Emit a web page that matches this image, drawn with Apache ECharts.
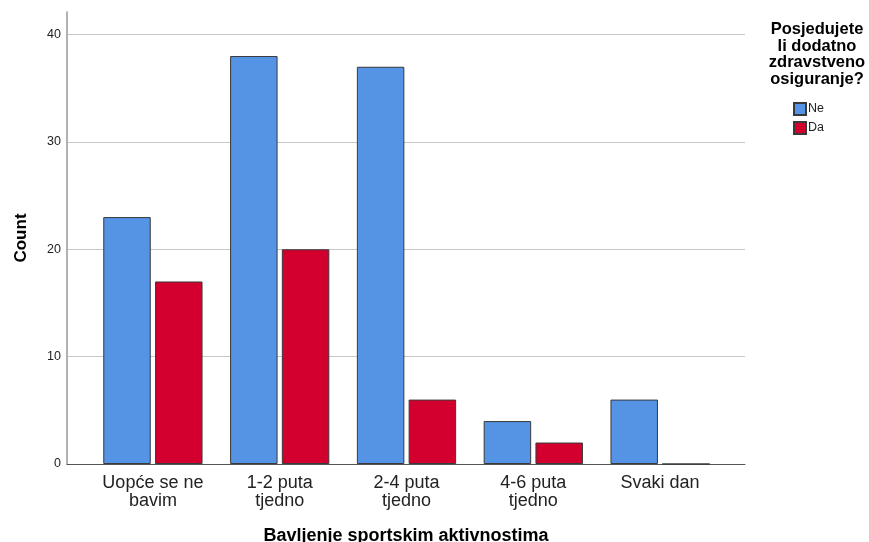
<!DOCTYPE html>
<html>
<head>
<meta charset="utf-8">
<script src="https://cdn.jsdelivr.net/npm/echarts@6/dist/echarts.min.js"></script>
<style>html,body{margin:0;padding:0;background:#fff}#c{width:869px;height:542px}</style>
</head>
<body>
<div id="c"></div>
<script>
const categories = ['Uopće se ne\nbavim', '1-2 puta\ntjedno', '2-4 puta\ntjedno', '4-6 puta\ntjedno', 'Svaki dan'];
const seriesNames = ['Ne', 'Da'];
const valuesNe = [23, 38, 37, 4, 6];
const valuesDa = [17, 20, 6, 2, 0];
const yTicks = [0, 10, 20, 30, 40];
const legendTitle = 'Posjedujete\nli dodatno\nzdravstveno\nosiguranje?';
const xTitle = 'Bavljenje sportskim aktivnostima';
const yTitle = 'Count';

const FONT = '"Liberation Sans", Arial, sans-serif';
const Y_MAX = 42.1;
const chart = echarts.init(document.getElementById('c'));
chart.setOption({
  animation: false,
  textStyle: { fontFamily: FONT },
  title: {
    text: legendTitle,
    left: 812, top: 16, textAlign: 'center',
    textStyle: { fontSize: 16.5, fontWeight: 'bold', color: '#000', lineHeight: 16.7, fontFamily: FONT }
  },
  legend: {
    orient: 'vertical', left: 788, top: 97,
    itemWidth: 12, itemHeight: 12, itemGap: 5,
    icon: 'rect',
    textStyle: { fontSize: 12.5, color: '#222', padding: [0, 0, 0, -3] },
    data: seriesNames
  },
  grid: [
    { left: 67, right: 124, top: 12, bottom: 78, outerBoundsMode: 'none', containLabel: false },
    { left: 89.5, right: 145.5, top: 12, bottom: 78, outerBoundsMode: 'none', containLabel: false }
  ],
  xAxis: [
    {
      gridIndex: 0, type: 'value', min: 0, max: 1,
      axisLine: { show: true, onZero: false, lineStyle: { color: '#555', width: 1 } },
      axisTick: { show: false }, axisLabel: { show: false }, splitLine: { show: false },
      name: xTitle, nameLocation: 'middle', nameGap: 63,
      nameTextStyle: { fontSize: 18, fontWeight: 'bold', color: '#000' }
    },
    {
      gridIndex: 1, type: 'category', data: categories,
      axisLine: { show: false }, axisTick: { show: false },
      axisLabel: { fontSize: 18, color: '#222', lineHeight: 18, margin: 10, interval: 0 }
    }
  ],
  yAxis: [
    {
      gridIndex: 0, type: 'value', min: 0, max: Y_MAX, interval: 10,
      axisLine: { show: true, lineStyle: { color: '#999', width: 1.5 } },
      axisTick: { show: false },
      axisLabel: { fontSize: 12.5, color: '#222', margin: 6, showMaxLabel: false,
        formatter: v => yTicks.includes(v) ? String(v) : '' },
      splitLine: { show: true, showMaxLine: false, showMinLine: false, lineStyle: { color: '#c8c8c8', width: 1 } },
      name: yTitle, nameLocation: 'middle', nameGap: 37, nameRotate: 90,
      nameTextStyle: { fontSize: 17, fontWeight: 'bold', color: '#000' }
    },
    {
      gridIndex: 1, type: 'value', min: 0, max: Y_MAX, show: false
    }
  ],
  series: [
    {
      name: seriesNames[0], type: 'bar', xAxisIndex: 1, yAxisIndex: 1,
      data: valuesNe, barWidth: 47.5, barGap: '9%',
      itemStyle: { color: '#5593E4', borderColor: '#3a3a3a', borderWidth: 1 }
    },
    {
      name: seriesNames[1], type: 'bar', xAxisIndex: 1, yAxisIndex: 1,
      data: valuesDa, barWidth: 47.5,
      itemStyle: { color: '#D3002F', borderColor: '#3a3a3a', borderWidth: 1 }
    }
  ]
});
</script>
</body>
</html>
